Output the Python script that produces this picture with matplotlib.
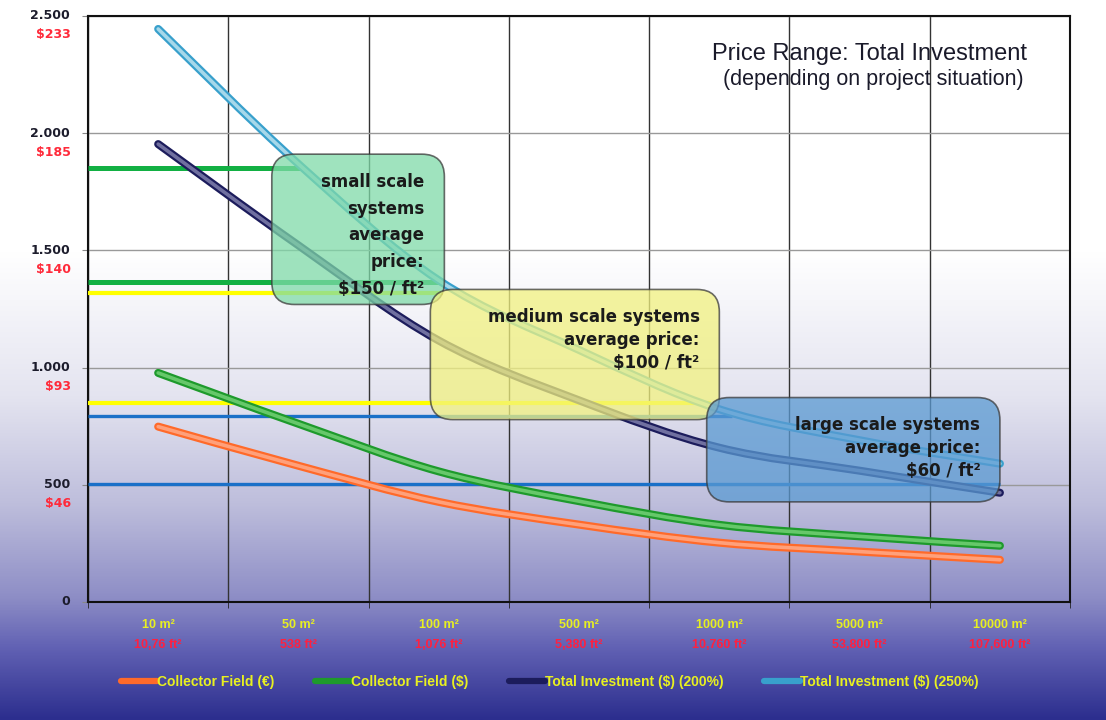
import matplotlib
matplotlib.use('Agg')
import matplotlib.pyplot as plt
import numpy as np
from matplotlib.colors import LinearSegmentedColormap
from matplotlib.patches import FancyBboxPatch, PathPatch
from matplotlib.path import Path
from matplotlib.lines import Line2D
import matplotlib.patheffects as pe
import matplotlib.transforms as mtransforms

# categories (collector field size)
sizes_m2 = ['10 m²', '50 m²', '100 m²', '500 m²', '1000 m²', '5000 m²', '10000 m²']
sizes_ft2 = ['10,76 ft²', '538 ft²', '1,076 ft²', '5,380 ft²', '10,760 ft²', '53,800 ft²', '107,600 ft²']

# series values
collector_eur = [748, 581, 427, 330, 253, 215, 180]
collector_usd = [977, 760, 557, 430, 329, 280, 240]
total_200 = [1953, 1521, 1115, 860, 658, 560, 466]
total_250 = [2444, 1868, 1372, 1075, 822, 690, 590]

# y axis labels
y_ticks = [0, 500, 1000, 1500, 2000, 2500]
y_tick_labels = ['0', '500', '1.000', '1.500', '2.000', '2.500']
y_usd_ft2 = ['', '$46', '$93', '$140', '$185', '$233']

# price threshold lines: value, right end (category index), colour
threshold_values = [1850, 1363, 1316, 850, 795, 504]
threshold_ends = [1.01, 2.04, 2.03, 3.94, 4.09, 6.0]
threshold_colors = ['#12b043', '#12b043', '#ffff00', '#ffff00', '#1a70c8', '#1a70c8']
threshold_widths = [3.6, 3.6, 3.0, 3.0, 2.4, 2.4]

# price boxes: x0, x1, y0, y1 (data units)
box_texts = ['small scale\nsystems\naverage\nprice:\n$150 / ft²',
             'medium scale systems\naverage price:\n$100 / ft²',
             'large scale systems\naverage price:\n$60 / ft²']
box_x0 = [0.81, 1.94, 3.91]
box_x1 = [2.04, 4.00, 6.00]
box_y0 = [1269, 778, 427]
box_y1 = [1910, 1333, 872]
box_colors = ['#7fdaa8', '#f2f280', '#5a9ad2']
box_spacing = [1.62, 1.35, 1.35]


def smooth_path(xs, ys):
    # Catmull-Rom through the points, as cubic Bezier segments (Excel "smoothed line")
    p = np.column_stack([xs, ys]).astype(float)
    verts = [p[0]]
    codes = [Path.MOVETO]
    n = len(p)
    for i in range(n - 1):
        p0 = p[i - 1] if i > 0 else p[i]
        p3 = p[i + 2] if i + 2 < n else p[i + 1]
        c1 = p[i] + (p[i + 1] - p0) / 6
        c2 = p[i + 1] - (p3 - p[i]) / 6
        verts += [c1, c2, p[i + 1]]
        codes += [Path.CURVE4] * 3
    return Path(verts, codes)


fig = plt.figure(figsize=(11.06, 7.2), dpi=100)

# background gradient over the whole figure
bg = fig.add_axes([0, 0, 1, 1], zorder=-10)
grad_cmap = LinearSegmentedColormap.from_list('bg', [
    (0.0, '#ffffff'), (0.35, '#ffffff'), (0.55, '#e4e4f0'), (0.70, '#bebedc'),
    (0.83, '#8e8ec6'), (0.90, '#6262b4'), (1.0, '#2c2e8e')])
bg.imshow(np.linspace(0, 1, 256).reshape(-1, 1), aspect='auto', cmap=grad_cmap,
          extent=[0, 1, 0, 1], origin='upper')
bg.axis('off')

ax = fig.add_axes([0.0796, 0.1639, 0.8879, 0.8141])
ax.set_facecolor('none')
x = np.arange(len(sizes_m2))
ax.set_xlim(-0.5, len(sizes_m2) - 0.5)
ax.set_ylim(0, 2500)

# grid
ax.set_xticks(np.arange(-0.5, len(sizes_m2) + 0.5, 1), minor=True)
ax.set_xticks(x)
ax.set_xticklabels(sizes_m2, color='#e8f020', fontsize=9, fontweight='bold',
                   family='Liberation Sans')
ax.tick_params(axis='x', which='major', length=0, pad=12)
ax.tick_params(axis='x', which='minor', length=4, color='#222222')
ax.grid(True, which='minor', axis='x', color='#333333', lw=1)
ax.set_yticks(y_ticks)
ax.set_yticklabels(y_tick_labels, fontsize=9, fontweight='bold', color='#1c1c2c')
ax.tick_params(axis='y', length=4, color='#888888', pad=9)
for lab in ax.get_yticklabels():
    lab.set_verticalalignment('center')
ax.grid(True, which='major', axis='y', color='#999999', lw=1)
ax.set_axisbelow(True)
for s in ax.spines.values():
    s.set_color('#111111')
    s.set_linewidth(1.5)

# red $/ft2 labels under the y tick labels
ytrans = mtransforms.blended_transform_factory(ax.transAxes, ax.transData)
red_offset = mtransforms.ScaledTranslation(0, -9 / 72, fig.dpi_scale_trans)
for v, lab in zip(y_ticks, y_usd_ft2):
    if lab:
        ax.text(-0.0175, v, lab, transform=ytrans + red_offset, ha='right', va='top',
                color='#ff2a3a', fontsize=9, fontweight='bold')

# red ft2 labels under the x tick labels
xtrans = mtransforms.blended_transform_factory(ax.transData, ax.transAxes)
for xi, lab in zip(x, sizes_ft2):
    ax.text(xi, -0.073, lab, transform=xtrans, ha='center', va='center', color='#ff2040',
            fontsize=9, fontweight='bold', family='Liberation Sans')

# threshold lines
for v, xe, c, w in zip(threshold_values, threshold_ends, threshold_colors, threshold_widths):
    ax.plot([-0.5, xe], [v, v], color=c, lw=w, solid_capstyle='butt', zorder=3)

# data series (smoothed, double-line look)
series = [
    (collector_eur, '#ff6a2a', '#ffa07a', 'Collector Field (€)'),
    (collector_usd, '#1e9a2c', '#66c86a', 'Collector Field ($)'),
    (total_200, '#1c1c5c', '#7070a0', 'Total Investment ($) (200%)'),
    (total_250, '#38a0cc', '#a6d8ea', 'Total Investment ($) (250%)'),
]
handles = []
for vals, dark, light, label in series:
    patch = PathPatch(smooth_path(x, vals), fill=False, edgecolor=light, lw=2.6, zorder=4,
                      capstyle='round',
                      path_effects=[pe.Stroke(linewidth=5.8, foreground=dark), pe.Normal()])
    ax.add_patch(patch)
    handles.append(Line2D([0], [0], color=dark, lw=4.5, label=label, solid_capstyle='round'))

# price boxes
for t, x0, x1, y0, y1, c, ls in zip(box_texts, box_x0, box_x1, box_y0, box_y1, box_colors,
                                    box_spacing):
    box = FancyBboxPatch((x0, y0), x1 - x0, y1 - y0,
                         boxstyle='round,pad=0,rounding_size=0.16', mutation_aspect=598,
                         facecolor=c, edgecolor='#3a3a3a', lw=1.2, alpha=0.75, zorder=5)
    ax.add_patch(box)
    ax.text(x1 - 0.14, y1 - 80, t, ha='right', va='top', fontsize=12, fontweight='bold',
            color='#1a1a1a', linespacing=ls, zorder=6)

# title
ax.text(0.796, 0.935, 'Price Range: Total Investment', transform=ax.transAxes, ha='center',
        va='center', fontsize=17, family='Liberation Sans', color='#1a1a2a', zorder=6)
ax.text(0.8, 0.891, '(depending on project situation)', transform=ax.transAxes,
        ha='center', va='center', fontsize=15.5, family='Liberation Sans', color='#1a1a2a',
        zorder=6)

# legend
leg = fig.legend(handles=handles, loc='center', bbox_to_anchor=(0.497, 0.053), ncol=4,
                 frameon=False, handlelength=2.6, handletextpad=0.0, columnspacing=2.9,
                 prop={'family': 'Liberation Sans', 'weight': 'bold', 'size': 10})
for txt in leg.get_texts():
    txt.set_color('#e8f020')

plt.savefig('out.png', dpi=100)
plt.close()
